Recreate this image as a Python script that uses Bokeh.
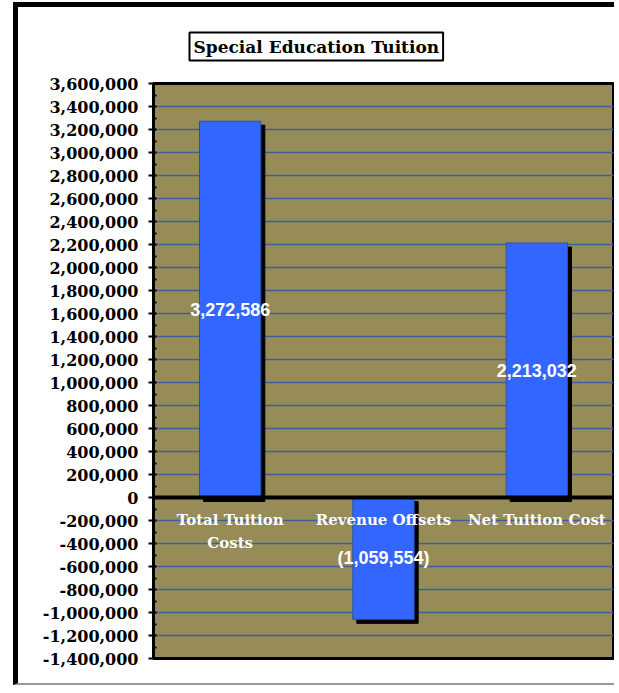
from bokeh.plotting import figure
from bokeh.models import (FactorRange, Range1d, Span, Title, NumeralTickFormatter,
                          SingleIntervalTicker, ColumnDataSource)
from bokeh.transform import dodge
from bokeh.core.properties import value
from bokeh.embed import file_html
from bokeh.resources import INLINE

# ---- data ----
categories = ["Total Tuition Costs", "Revenue Offsets", "Net Tuition Cost"]
category_labels = ["Total Tuition\nCosts", "Revenue Offsets", "Net Tuition Cost"]
amounts = [3272586, -1059554, 2213032]
y_min, y_max, y_step = -1400000, 3600000, 200000
title_text = "Special Education Tuition"

def fmt(v):
    return f"({abs(v):,})" if v < 0 else f"{v:,}"

W, H = 601, 683
ML, MR, MT, MB = 135, 6, 76, 32
frame_h = H - MT - MB
units_per_px = (y_max - y_min) / frame_h
shadow_px = 4

src = ColumnDataSource(dict(
    cat=categories,
    lab=category_labels,
    top=[max(v, 0) for v in amounts],
    bottom=[min(v, 0) for v in amounts],
    stop=[max(v, 0) - shadow_px * units_per_px for v in amounts],
    sbottom=[min(v, 0) - shadow_px * units_per_px for v in amounts],
    mid=[v / 2 for v in amounts],
    txt=[fmt(v) for v in amounts],
    zero=[0] * len(amounts),
))

p = figure(x_range=FactorRange(*categories), y_range=Range1d(y_min, y_max),
           width=W, height=H, output_backend="svg", toolbar_location=None,
           min_border_left=ML, min_border_right=MR, min_border_top=MT, min_border_bottom=MB)
p.styles = {"border-left": "5px solid black", "border-top": "5px solid black",
            "border-bottom": "2px solid #999999", "margin-left": "13px", "margin-top": "2px"}

p.title = Title(text=title_text, align="left", offset=36, standoff=46,
                text_font="DejaVu Serif", text_font_style="bold", text_font_size="17px",
                text_color="black", background_fill_color="white", padding=4,
                border_line_color="black", border_line_width=2)

p.background_fill_color = "#978c58"
p.border_fill_color = "white"
p.outline_line_color = "black"
p.outline_line_width = 3

p.xaxis.visible = False
p.xgrid.visible = False

p.yaxis.ticker = SingleIntervalTicker(interval=y_step, num_minor_ticks=2)
p.yaxis.formatter = NumeralTickFormatter(format="0,0")
p.yaxis.axis_line_width = 3
p.yaxis.axis_line_color = "black"
p.yaxis.major_tick_line_width = 2
p.yaxis.major_tick_out = 5
p.yaxis.major_tick_in = 2
p.yaxis.minor_tick_line_width = 2
p.yaxis.minor_tick_in = 3
p.yaxis.minor_tick_out = 0
p.yaxis.major_label_standoff = 10
p.yaxis.major_label_text_font = "DejaVu Serif"
p.yaxis.major_label_text_font_style = "bold"
p.yaxis.major_label_text_font_size = "16px"
p.yaxis.major_label_text_color = "black"

p.ygrid.grid_line_color = "#3f5f9c"
p.ygrid.grid_line_width = 1.5

# shadows
p.vbar(x=dodge("cat", shadow_px / 154, range=p.x_range), top="stop", bottom="sbottom",
       width=0.4, source=src, fill_color="black", line_color="black")
# bars
p.vbar(x="cat", top="top", bottom="bottom", width=0.4, source=src,
       fill_color="#3366ff", line_color="#2a4fa8", line_width=1)

p.add_layout(Span(location=0, dimension="width", line_color="black", line_width=4))

# value labels
p.text(x="cat", y="mid", text="txt", source=src, text_align="center", text_baseline="middle",
       text_color="white", text_font=value("Liberation Sans"), text_font_style="bold",
       text_font_size="18px")

# category labels
p.text(x="cat", y="zero", text="lab", source=src, text_align="center", text_baseline="top",
       y_offset=13, text_color="white", text_font=value("DejaVu Serif"), text_font_style="bold",
       text_font_size="15px", text_line_height=1.3)

open("out.html", "w").write(file_html(p, INLINE))
